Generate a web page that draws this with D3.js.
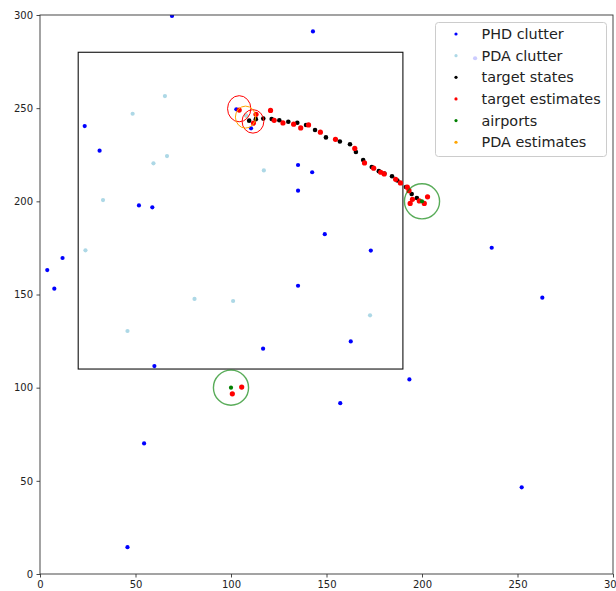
<!DOCTYPE html>
<html><head><meta charset="utf-8">
<script src="https://cdn.jsdelivr.net/npm/d3@7"></script>
<style>
body{margin:0;background:#fff;}
text{font-family:"DejaVu Sans",sans-serif;}
</style></head>
<body><svg id="chart" width="616" height="591"></svg>
<script>
// ---- data ----
const xTicks = [0, 50, 100, 150, 200, 250, 300];
const yTicks = [0, 50, 100, 150, 200, 250, 300];

const phdClutterX = [69.1, 142.9, 23.4, 31.2, 135.1, 142.5, 135.1, 51.8, 58.8, 149.1, 173.2, 236.5, 3.8, 11.8, 7.5, 135.1, 263.0, 102.8, 110.5, 116.8, 162.7, 59.9, 193.4, 157.2, 54.5, 252.2, 45.8, 227.8];
const phdClutterY = [299.5, 291.2, 240.4, 227.2, 219.5, 215.6, 205.7, 197.8, 196.8, 182.4, 173.6, 175.1, 163.1, 169.6, 153.1, 154.7, 148.3, 249.4, 239.2, 120.9, 124.8, 111.6, 104.4, 91.7, 70.1, 46.5, 14.4, 276.8];

const pdaClutterX = [65.4, 48.5, 59.4, 66.5, 117.2, 33.0, 23.8, 108.0, 80.9, 101.1, 45.8, 172.8];
const pdaClutterY = [256.5, 247.0, 220.4, 224.3, 216.6, 200.7, 173.7, 246.0, 147.6, 146.5, 130.4, 138.8];

const targetStatesX = [109.5, 113.0, 116.9, 121.3, 125.3, 130.0, 134.7, 139.3, 144.0, 149.7, 157.0, 162.3, 165.4, 169.2, 173.7, 177.4, 180.3, 184.3, 187.1, 191.6, 194.6, 197.3];
const targetStatesY = [243.3, 244.1, 244.4, 244.2, 243.5, 242.7, 242.2, 241.0, 238.3, 234.3, 232.1, 230.6, 226.5, 222.2, 218.4, 216.2, 214.9, 213.5, 211.2, 207.7, 203.9, 201.8];

const targetEstX = [104.3, 113.1, 111.8, 120.7, 122.6, 127.2, 132.8, 136.5, 140.6, 146.8, 154.7, 164.8, 169.9, 174.7, 178.4, 180.2, 186.2, 188.7, 192.3, 193.2, 195.0, 193.8, 198.6, 201.2, 202.9, 100.7, 105.6];
const targetEstY = [249.0, 246.7, 242.0, 248.8, 243.5, 242.1, 241.4, 239.4, 241.0, 237.1, 233.3, 228.4, 220.6, 217.8, 215.6, 214.7, 211.8, 209.9, 207.6, 205.7, 201.1, 198.9, 200.2, 198.9, 202.4, 96.7, 100.3];

const airportsX = [100, 200];
const airportsY = [100, 200];
const airportRadiusX = [9.2, 9.2];
const airportRadiusY = [9.4, 9.4];

const pdaEstX = [108.0];
const pdaEstY = [246.0];

// covariance ellipses
const estEllipseCX = [104.3, 111.5];
const estEllipseCY = [249.7, 242.9];
const estEllipseRX = [6.1, 5.7];
const estEllipseRY = [7.0, 6.3];
const pdaEllipseCX = [107.6];
const pdaEllipseCY = [245.2];
const pdaEllipseRX = [5.3];
const pdaEllipseRY = [5.9];

const regionRect = {x0: 20, x1: 190, y0: 110, y1: 280};

const legendLabels = ["PHD clutter", "PDA clutter", "target states", "target estimates", "airports", "PDA estimates"];
const legendColors = ["blue", "lightblue", "black", "red", "green", "orange"];

// ---- layout ----
const svg = d3.select("#chart");
const L = 40, T = 15, W = 573, H = 559;
const x = d3.scaleLinear().domain([0, 300]).range([L, L + W]);
const y = d3.scaleLinear().domain([0, 300]).range([T + H, T]);

svg.append("defs").append("clipPath").attr("id", "clip")
  .append("rect").attr("x", L).attr("y", T).attr("width", W).attr("height", H);

const plot = svg.append("g").attr("clip-path", "url(#clip)");

// rectangle region
plot.append("rect")
  .attr("x", x(regionRect.x0)).attr("y", y(regionRect.y1))
  .attr("width", x(regionRect.x1) - x(regionRect.x0))
  .attr("height", y(regionRect.y0) - y(regionRect.y1))
  .attr("fill", "none").attr("stroke", "#111").attr("stroke-width", 1.1);

function dots(xs, ys, color, r) {
  plot.append("g").selectAll("circle").data(xs.map((d, i) => [d, ys[i]])).join("circle")
    .attr("cx", d => x(d[0])).attr("cy", d => y(d[1])).attr("r", r).attr("fill", color);
}
function ellipses(cx, cy, rx, ry, color, opacity, width) {
  plot.append("g").selectAll("ellipse").data(cx.map((d, i) => i)).join("ellipse")
    .attr("cx", i => x(cx[i])).attr("cy", i => y(cy[i]))
    .attr("rx", i => x(rx[i]) - x(0)).attr("ry", i => y(0) - y(ry[i]))
    .attr("fill", "none").attr("stroke", color).attr("stroke-opacity", opacity).attr("stroke-width", width);
}

dots(phdClutterX, phdClutterY, "blue", 2.1);
dots(pdaEstX, pdaEstY, "orange", 2.1);
dots(pdaClutterX, pdaClutterY, "lightblue", 2.1);
dots(targetStatesX, targetStatesY, "black", 2.3);
dots(targetEstX, targetEstY, "red", 2.6);
dots(airportsX, airportsY, "green", 2.1);
ellipses(airportsX, airportsY, airportRadiusX, airportRadiusY, "green", 0.65, 1.4);
ellipses(estEllipseCX, estEllipseCY, estEllipseRX, estEllipseRY, "red", 1, 1);
ellipses(pdaEllipseCX, pdaEllipseCY, pdaEllipseRX, pdaEllipseRY, "orange", 1, 1);

// spines
svg.append("rect").attr("x", L).attr("y", T).attr("width", W).attr("height", H)
  .attr("fill", "none").attr("stroke", "#333").attr("stroke-width", 0.9);

// axes
const xAxis = svg.append("g").attr("transform", `translate(0,${T + H})`)
  .call(d3.axisBottom(x).tickValues(xTicks).tickSize(3.5).tickPadding(3.5).tickFormat(d3.format("d")));
const yAxis = svg.append("g").attr("transform", `translate(${L},0)`)
  .call(d3.axisLeft(y).tickValues(yTicks).tickSize(3.5).tickPadding(3.5).tickFormat(d3.format("d")));
[xAxis, yAxis].forEach(a => {
  a.select(".domain").remove();
  a.selectAll("line").attr("stroke", "#333").attr("stroke-width", 0.9);
  a.selectAll("text").attr("font-family", "DejaVu Sans").attr("font-size", 10).attr("fill", "#222");
});

// legend
const lg = svg.append("g");
lg.append("rect").attr("x", 435.5).attr("y", 22.5).attr("width", 171).attr("height", 134)
  .attr("rx", 3).attr("fill", "white").attr("fill-opacity", 0.8)
  .attr("stroke", "#ccc").attr("stroke-width", 1);
legendLabels.forEach((lab, i) => {
  const cy = 34 + i * 21.65;
  lg.append("circle").attr("cx", 456).attr("cy", cy).attr("r", 1.6).attr("fill", legendColors[i]);
  lg.append("text").attr("x", 481.5).attr("y", cy).attr("dy", "0.36em")
    .attr("font-size", 14.4).attr("fill", "#222").text(lab);
});
</script>
</body></html>
